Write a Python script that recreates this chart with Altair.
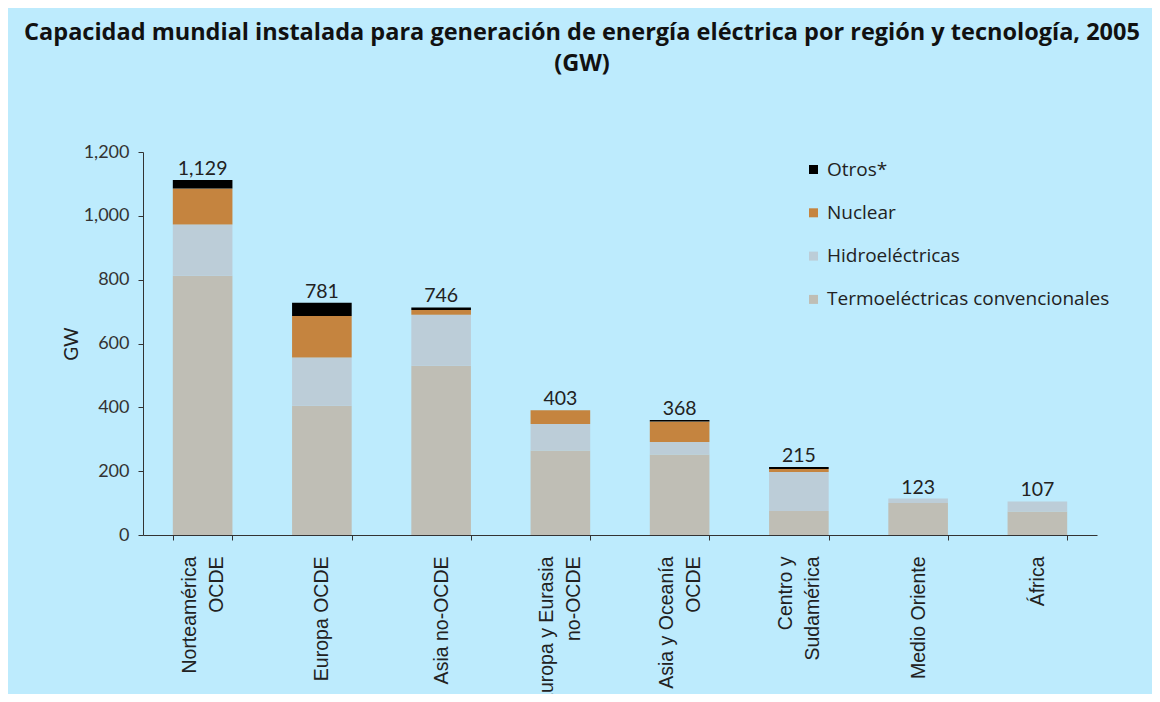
import altair as alt
import pandas as pd

regions = ["Norteamérica|OCDE", "Europa OCDE", "Asia no-OCDE", "Europa y Eurasia|no-OCDE",
           "Asia y Oceanía|OCDE", "Centro y|Sudamérica", "Medio Oriente", "África"]
termo = [812, 405, 530, 265, 252, 75, 100, 74]
hidro = [161, 151, 160, 83, 39, 122, 14, 31]
nuclear = [113, 130, 15, 43, 65, 10, 0, 0]
otros = [26, 42, 8, 0, 4, 6, 0, 0]
total_labels = ["1,129", "781", "746", "403", "368", "215", "123", "107"]
series = ["Termoeléctricas convencionales", "Hidroeléctricas", "Nuclear", "Otros*"]
colors = ["#BFBEB5", "#BCCDD8", "#C5843F", "#000000"]
y_ticks = [0, 200, 400, 600, 800, 1000, 1200]

rows = []
for i, r in enumerate(regions):
    for j, (s, vals) in enumerate(zip(series, [termo, hidro, nuclear, otros])):
        rows.append({"region": r, "serie": s, "orden": j, "valor": vals[i],
                     "etiqueta": total_labels[i]})
df = pd.DataFrame(rows)

x_enc = alt.X(
    "region:N", sort=regions,
    scale=alt.Scale(paddingInner=0.5, paddingOuter=0.25),
    axis=alt.Axis(title=None, labelAngle=270, labelAlign="right", labelBaseline="middle",
                  labelExpr="split(datum.label, '|')", labelFont="Liberation Sans",
                  labelFontSize=19.5, labelLineHeight=27, labelPadding=16,
                  labelOffset={"condition": {"test": "indexof(datum.label, '|') >= 0",
                                             "value": -13.5}, "value": 0},
                  tickBand="extent", tickSize=5, labelColor="#222",
                  domainColor="#333", tickColor="#333"),
)

y_enc = alt.Y(
    "valor:Q", stack="zero",
    scale=alt.Scale(domain=[0, 1200], nice=False),
    axis=alt.Axis(values=y_ticks, format=",.0f", title="GW", grid=False,
                  labelFont="Lato", labelFontSize=18, labelColor="#333", labelPadding=9,
                  tickSize=5, tickColor="#333", domainColor="#333",
                  titleFont="Lato", titleFontSize=19, titleFontWeight="normal",
                  titleColor="#222", titlePadding=2),
)

legend_domain = series[::-1]
legend_range = colors[::-1]

bars = alt.Chart(df).mark_bar().encode(
    x=x_enc,
    y=y_enc,
    color=alt.Color("serie:N",
                    scale=alt.Scale(domain=legend_domain, range=legend_range),
                    legend=alt.Legend(title=None, orient="none", legendX=661, legendY=8,
                                      symbolType="square", symbolSize=81,
                                      symbolStrokeWidth=0, labelFont="Open Sans",
                                      labelFontSize=19, labelColor="#222",
                                      labelOffset=4, rowPadding=23.3, padding=0,
                                      labelLimit=400)),
    order=alt.Order("orden:Q", sort="ascending"),
)

labels = alt.Chart(df).transform_aggregate(
    total="sum(valor)", groupby=["region", "etiqueta"]
).mark_text(baseline="alphabetic", dy=-5, font="Lato", fontSize=19.5, color="#222").encode(
    x=alt.X("region:N", sort=regions),
    y=alt.Y("total:Q"),
    text="etiqueta:N",
)

chart = alt.layer(bars, labels).properties(
    width=954, height=383,
    autosize=alt.AutoSizeParams(type="none"),
    padding={"left": 135, "top": 144, "right": 55, "bottom": 159},
    background="#BDEBFD",
    title=alt.TitleParams(
        ["Capacidad mundial instalada para generación de energía eléctrica por región y tecnología, 2005", "(GW)"],
        font="Open Sans", fontSize=23.5, fontWeight="bold", color="#111",
        anchor="middle", dx=-38, offset=68, lineHeight=31,
    ),
).configure_view(stroke=None)

chart.save("out.html", embed_options={"renderer": "svg", "actions": False})
